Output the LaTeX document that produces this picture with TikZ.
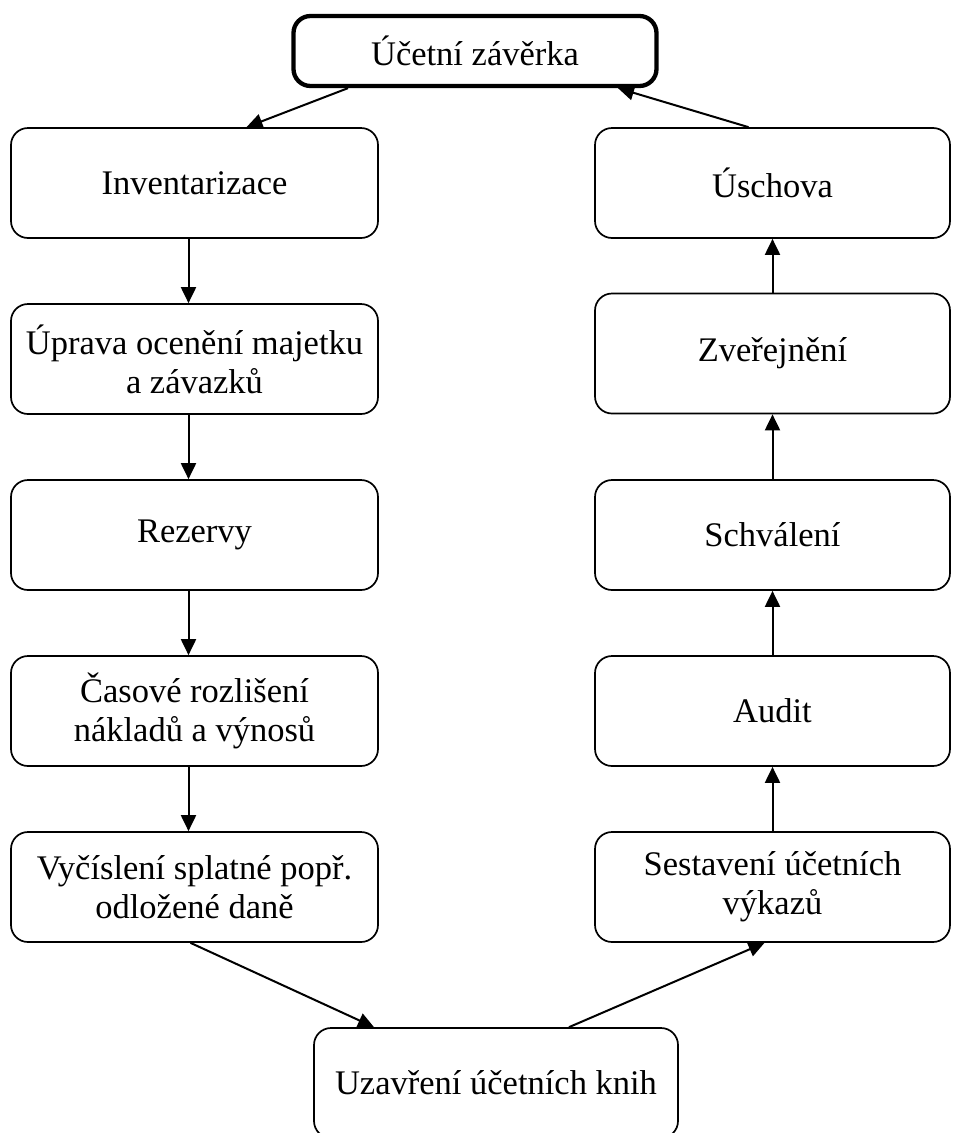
\documentclass[tikz,border=0pt]{standalone}
\usepackage{fontspec}
\setmainfont{Liberation Serif}
\usetikzlibrary{arrows.meta}

\tikzset{
  stepbox/.style={draw, rounded corners=17pt, line width=1.7pt, align=center,
    inner sep=0pt, font=\fontsize{34.5pt}{39pt}\selectfont},
  leftbox/.style={stepbox, minimum width=367pt, minimum height=110pt},
  rightbox/.style={stepbox, minimum width=355pt, minimum height=110pt},
  flow/.style={line width=2pt, -{Triangle[length=16pt,width=15pt]}}
}

\begin{document}
\begin{tikzpicture}[x=1pt,y=-1pt]
    \clip (0,0) rectangle (953,1133);

    % Top
    \node[stepbox, line width=4.3pt, minimum width=363pt, minimum height=70pt] (zaverka) at (475,51) {Účetní závěrka};

    % Left column
    \node[leftbox] (inventarizace) at (194.5,183) {Inventarizace};
    \node[leftbox] (uprava) at (194.5,359) {Úprava ocenění majetku\\a závazků};
    \node[leftbox] (rezervy) at (194.5,535) {Rezervy};
    \node[leftbox] (casove) at (194.5,711) {Časové rozlišení\\nákladů a výnosů};
    \node[leftbox] (vycisleni) at (194.5,887) {Vyčíslení splatné popř.\\odložené daně};

    % Right column
    \node[rightbox] (uschova) at (772.5,183) {Úschova};
    \node[rightbox, minimum height=120pt] (zverejneni) at (772.5,353.5) {Zveřejnění};
    \node[rightbox] (schvaleni) at (772.5,535) {Schválení};
    \node[rightbox] (audit) at (772.5,711) {Audit};
    \node[rightbox] (sestaveni) at (772.5,887) {Sestavení účetních\\výkazů};

    % Bottom
    \node[stepbox, minimum width=364pt, minimum height=110pt] (uzavreni) at (496,1083) {Uzavření účetních knih};

    % Arrows
    \draw[flow] ([xshift=-127pt]zaverka.south) -- ([xshift=52pt]inventarizace.north);
    \foreach \a/\b in {inventarizace/uprava, uprava/rezervy, rezervy/casove, casove/vycisleni}{
    \draw[flow] ([xshift=-6pt]\a.south) -- ([xshift=-6pt]\b.north);
    }
    \draw[flow] ([xshift=-4pt]vycisleni.south) -- ([xshift=-122pt]uzavreni.north);
    \draw[flow] ([xshift=73pt]uzavreni.north) -- ([xshift=-8pt]sestaveni.south);
    \foreach \a/\b in {sestaveni/audit, audit/schvaleni, schvaleni/zverejneni, zverejneni/uschova}{
    \draw[flow] (\a.north) -- (\b.south);
    }
    \draw[flow] ([xshift=-24pt]uschova.north) -- ([xshift=143pt]zaverka.south);
\end{tikzpicture}
\end{document}
